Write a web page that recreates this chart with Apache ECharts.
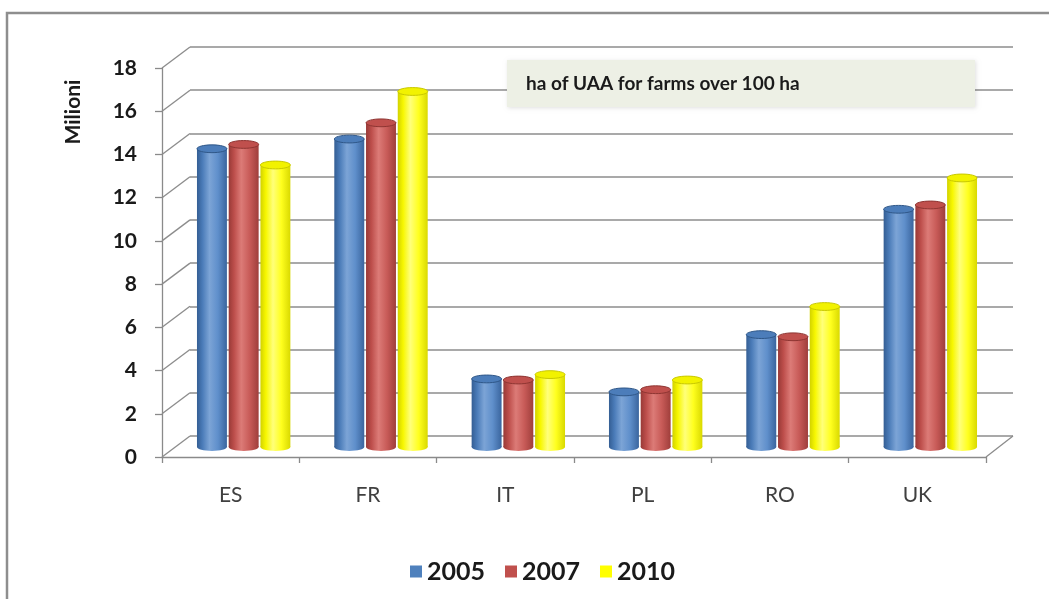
<!DOCTYPE html>
<html>
<head>
<meta charset="utf-8">
<title>ha of UAA for farms over 100 ha</title>
<script src="https://cdn.jsdelivr.net/npm/echarts@6/dist/echarts.min.js"></script>
<style>
  html, body { margin: 0; padding: 0; background: #ffffff; }
  #chart { width: 1049px; height: 599px; }
</style>
</head>
<body>
<div id="chart"></div>
<script>
// Utilised agricultural area held by farms over 100 ha, in millions of ha
const categories = ['ES', 'FR', 'IT', 'PL', 'RO', 'UK'];
const years = ['2005', '2007', '2010'];
const values2005 = [13.8, 14.25, 3.15, 2.55, 5.2, 11.0];
const values2007 = [14.0, 15.0, 3.1, 2.65, 5.1, 11.2];
const values2010 = [13.05, 16.45, 3.35, 3.1, 6.5, 12.45];
const yTicks = [0, 2, 4, 6, 8, 10, 12, 14, 16, 18];
const titleText = 'ha of UAA for farms over 100 ha';
const axisName = 'Milioni';

// Oblique 3D layout: front plane, back wall and the mid-depth plane the cylinders stand in
const FRONT = { left: 162, top: 68, width: 824, height: 389 };
const BACK = { left: 190, top: 47, width: 823, height: 389 };
const MID = { left: 175, top: 58, width: 824, height: 389 };

const FONT = 'Lato, "Open Sans", "DejaVu Sans", sans-serif';

const palettes = [
  { solid: '#4F81BD', stops: ['#345E94', '#4A7BB8', '#7CA4D6', '#5F8FCB', '#3A659E'], top: '#4C7DBA', rim: '#2F5788' },
  { solid: '#C0504D', stops: ['#983A37', '#BD4E4B', '#DC7B77', '#C85B58', '#9F3E3B'], top: '#C0504D', rim: '#8E3532' },
  { solid: '#FFFF00', stops: ['#D2D200', '#F7F700', '#FFFF7A', '#FFFF1E', '#D9D900'], top: '#F2F200', rim: '#C8C800' }
];

function cylinder(idx) {
  const pal = palettes[idx];
  return function (params, api) {
    const cat = api.value(0);
    const base = api.coord([cat, 0]);
    const top = api.coord([cat, api.value(1)]);
    const band = api.size([1, 0])[0];
    const w = band * 0.218;
    const pitch = band * 0.231;
    const cx = base[0] + (idx - 1) * pitch;
    const ry = w * 0.13;
    const grad = new echarts.graphic.LinearGradient(0, 0, 1, 0, [
      { offset: 0, color: pal.stops[0] },
      { offset: 0.18, color: pal.stops[1] },
      { offset: 0.42, color: pal.stops[2] },
      { offset: 0.7, color: pal.stops[3] },
      { offset: 1, color: pal.stops[4] }
    ]);
    return {
      type: 'group',
      children: [
        { type: 'ellipse', shape: { cx: cx, cy: base[1], rx: w / 2, ry: ry }, style: { fill: grad } },
        { type: 'rect', shape: { x: cx - w / 2, y: top[1], width: w, height: base[1] - top[1] }, style: { fill: grad } },
        { type: 'ellipse', shape: { cx: cx, cy: top[1], rx: w / 2, ry: ry }, style: { fill: pal.top, stroke: pal.rim, lineWidth: 1 } }
      ]
    };
  };
}

const seriesValues = [values2005, values2007, values2010];
const yMin = yTicks[0];
const yMax = yTicks[yTicks.length - 1];
const yStep = yTicks[1] - yTicks[0];

const chart = echarts.init(document.getElementById('chart'), null, { renderer: 'canvas' });

chart.setOption({
  backgroundColor: '#ffffff',
  animation: false,
  textStyle: { fontFamily: FONT },
  grid: [
    { left: BACK.left, top: BACK.top, width: BACK.width, height: BACK.height },
    { left: FRONT.left, top: FRONT.top, width: FRONT.width, height: FRONT.height },
    { left: MID.left, top: MID.top, width: MID.width, height: MID.height }
  ],
  xAxis: [
    { gridIndex: 0, type: 'category', data: categories, show: false },
    {
      gridIndex: 1, type: 'category', data: categories, boundaryGap: true,
      axisLine: { show: true, lineStyle: { color: '#8a8a8a', width: 1.3 } },
      axisTick: { show: true, length: 6, lineStyle: { color: '#8a8a8a', width: 1.3 } },
      axisLabel: { margin: 28, fontSize: 21, color: '#404040', fontFamily: FONT },
      splitLine: { show: false }
    },
    { gridIndex: 2, type: 'category', data: categories, show: false }
  ],
  yAxis: [
    {
      gridIndex: 0, type: 'value', min: yMin, max: yMax, interval: yStep,
      axisLine: { show: false }, axisTick: { show: false }, axisLabel: { show: false },
      splitLine: { show: true, lineStyle: { color: '#8c8c8c', width: 1.7 } }
    },
    {
      gridIndex: 1, type: 'value', min: yMin, max: yMax, interval: yStep,
      axisLine: { show: true, lineStyle: { color: '#8a8a8a', width: 1.3 } },
      axisTick: { show: true, length: 7, lineStyle: { color: '#8a8a8a', width: 1.3 } },
      axisLabel: { margin: 25, fontSize: 21, fontWeight: 'bold', color: '#1a1a1a', fontFamily: FONT },
      splitLine: { show: false }
    },
    { gridIndex: 2, type: 'value', min: yMin, max: yMax, interval: yStep, show: false }
  ],
  legend: {
    data: years,
    left: 405,
    top: 554,
    icon: 'rect',
    itemWidth: 12,
    itemHeight: 12,
    itemGap: 20,
    textStyle: { fontSize: 25, fontWeight: 'bold', color: '#1a1a1a', fontFamily: FONT, padding: [0, 0, 0, 0] }
  },
  series: years.map(function (name, i) {
    return {
      name: name,
      type: 'custom',
      xAxisIndex: 2,
      yAxisIndex: 2,
      itemStyle: { color: palettes[i].solid },
      encode: { x: 0, y: 1 },
      data: seriesValues[i].map(function (v, c) { return [c, v]; }),
      renderItem: cylinder(i),
      z: 5
    };
  })
});

// Side wall and floor edges joining the front axis to the back wall
const edges = [];
yTicks.forEach(function (v) {
  const yf = chart.convertToPixel({ yAxisIndex: 1 }, v);
  const yb = chart.convertToPixel({ yAxisIndex: 0 }, v);
  edges.push({
    type: 'line', z: 1, silent: true,
    shape: { x1: FRONT.left, y1: yf, x2: BACK.left, y2: yb },
    style: { stroke: '#8c8c8c', lineWidth: 1.3 }
  });
});
const yf0 = chart.convertToPixel({ yAxisIndex: 1 }, yMin);
const yb0 = chart.convertToPixel({ yAxisIndex: 0 }, yMin);
edges.push({
  type: 'line', z: 1, silent: true,
  shape: { x1: FRONT.left + FRONT.width, y1: yf0, x2: BACK.left + BACK.width, y2: yb0 },
  style: { stroke: '#8c8c8c', lineWidth: 1.3 }
});

chart.setOption({
  graphic: edges.concat([
    {
      type: 'rect', z: 0, silent: true,
      shape: { x: 7, y: 13, width: 1100, height: 700 },
      style: { fill: 'none', stroke: '#8e8e8e', lineWidth: 2.5 }
    },
    {
      type: 'text', z: 20, silent: true,
      x: 73, y: 112, rotation: Math.PI / 2,
      style: { text: axisName, fontSize: 21, fontWeight: 'bold', fill: '#1a1a1a', fontFamily: FONT, align: 'center', verticalAlign: 'middle' }
    },
    {
      type: 'rect', z: 20, silent: true,
      shape: { x: 507, y: 60, width: 468, height: 47 },
      style: { fill: '#EDF0E5', shadowBlur: 4, shadowColor: 'rgba(0,0,0,0.12)', shadowOffsetX: 1, shadowOffsetY: 1 }
    },
    {
      type: 'text', z: 21, silent: true,
      x: 526, y: 84,
      style: { text: titleText, fontSize: 19, fontWeight: 'bold', fill: '#1a1a1a', fontFamily: FONT, align: 'left', verticalAlign: 'middle' }
    }
  ])
});
</script>
</body>
</html>
